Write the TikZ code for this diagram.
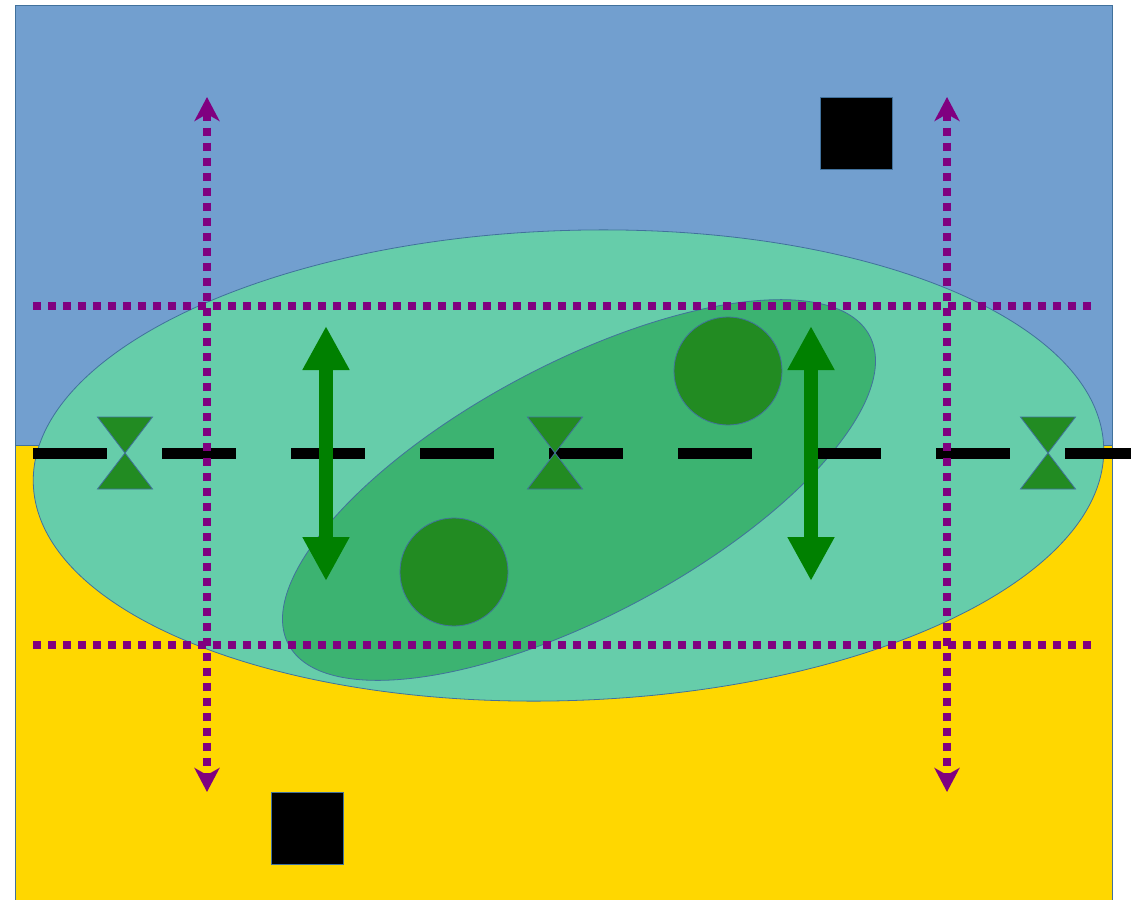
\documentclass[tikz,border=0pt]{standalone}
\usetikzlibrary{arrows.meta}
\definecolor{skyblue}{RGB}{114,159,207}
\definecolor{gold}{RGB}{255,215,0}
\definecolor{aqua}{RGB}{102,205,170}
\definecolor{seagreen}{RGB}{60,179,113}
\definecolor{forest}{RGB}{34,139,34}
\definecolor{arrowgreen}{RGB}{0,128,0}
\definecolor{purp}{RGB}{128,0,128}
\definecolor{edge}{RGB}{65,113,156}
\tikzset{
  shapeline/.style={draw=edge, line width=0.8pt},
  pipe/.style={draw=black, line width=11pt, dash pattern=on 74pt off 55pt},
  dotline/.style={draw=purp, line width=8pt, dash pattern=on 8pt off 7pt},
  dotarrow/.style={dotline, {Stealth[length=24pt,width=25pt,inset=7pt]}-{Stealth[length=24pt,width=25pt,inset=7pt]}},
  flowarrow/.style={draw=arrowgreen, line width=14pt, {Triangle[length=44pt,width=44pt]}-{Triangle[length=44pt,width=44pt]}},
  valve/.style={shapeline, fill=forest},
  blocksq/.style={shapeline, fill=black}
}
\begin{document}
\begin{tikzpicture}[x=1pt,y=-1pt]
\useasboundingbox (0,0) rectangle (1139,899);
\fill[white] (0,0) rectangle (1139,899);
% zones
\draw[shapeline, fill=skyblue] (15,5) rectangle (1112,445);
\draw[shapeline, fill=gold] (15,445) rectangle (1112,905);
% ellipses
\coordinate (bigc) at (568.5,465.5);
\draw[shapeline, fill=aqua, rotate around={2:(bigc)}] (bigc) ellipse [x radius=535.5, y radius=235];
\coordinate (smallc) at (579,490);
\draw[shapeline, fill=seagreen, rotate around={28:(smallc)}] (smallc) ellipse [x radius=329, y radius=126];
% circles
\draw[shapeline, fill=forest] (728,371) circle [radius=54];
\draw[shapeline, fill=forest] (454,572) circle [radius=54];
% black squares
\draw[blocksq] (820,97) rectangle (892,169);
\draw[blocksq] (271,792) rectangle (343,864);
% pipe line
\coordinate (pipeA) at (33,453);
\coordinate (pipeB) at (1131,453);
\draw[pipe] (pipeA) -- (pipeB);
% valves
\foreach \vx in {125,555,1048}{
  \draw[valve] (\vx-27.5,417) -- (\vx+27.5,417) -- (\vx-27.5,489) -- (\vx+27.5,489) -- cycle;
}
% purple dotted lines
\coordinate (h1a) at (33,306); \coordinate (h1b) at (1095,306);
\coordinate (h2a) at (33,645); \coordinate (h2b) at (1095,645);
\draw[dotline] (h1a) -- (h1b);
\draw[dotline] (h2a) -- (h2b);
\coordinate (v1a) at (207,97); \coordinate (v1b) at (207,792);
\coordinate (v2a) at (947,97); \coordinate (v2b) at (947,792);
\draw[dotarrow] (v1a) -- (v1b);
\draw[dotarrow] (v2a) -- (v2b);
% green arrows
\coordinate (g1a) at (326,326); \coordinate (g1b) at (326,581);
\coordinate (g2a) at (811,326); \coordinate (g2b) at (811,581);
\draw[flowarrow] (g1a) -- (g1b);
\draw[flowarrow] (g2a) -- (g2b);
\end{tikzpicture}
\end{document}
